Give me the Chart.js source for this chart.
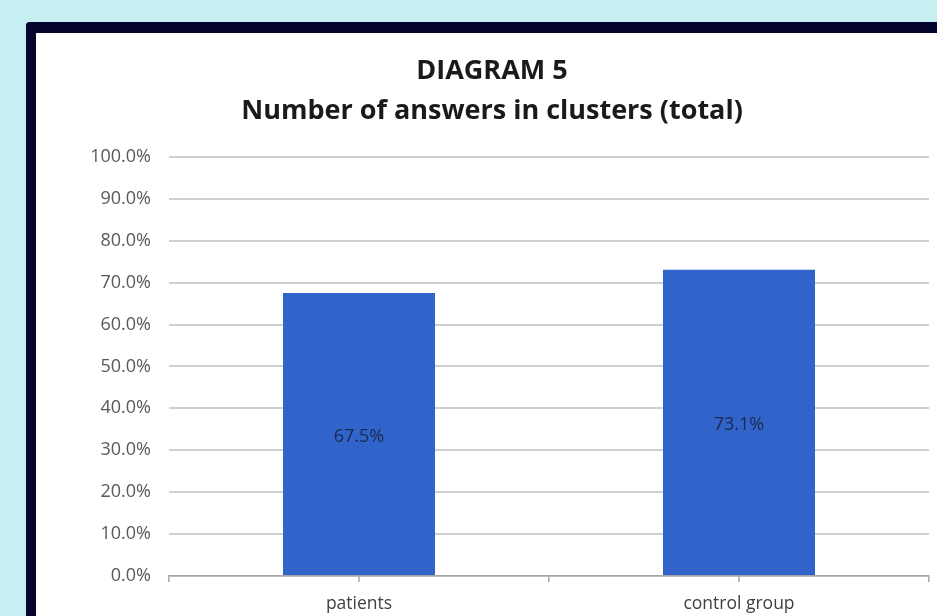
<!DOCTYPE html>
<html>
<head>
<meta charset="utf-8">
<script src="https://cdn.jsdelivr.net/npm/chart.js@4.4.1/dist/chart.umd.min.js"></script>
<style>
  html, body { margin: 0; padding: 0; }
  body { width: 937px; height: 616px; background: #c5eff0; overflow: hidden; position: relative; }
  #frame {
    position: absolute; left: 26px; top: 22px; width: 960px; height: 640px;
    background: #ffffff; border-left: 10px solid #05052e; border-top: 11px solid #05052e;
    border-top-left-radius: 4px;
  }
  #wrap { position: absolute; left: 36px; top: 33px; width: 901px; height: 583px; }
</style>
</head>
<body>
<div id="frame"></div>
<div id="wrap"><canvas id="chart"></canvas></div>
<script>
// dados
const categories = ['patients', 'control group'];
const values = [67.5, 73.1];
const titleLines = ['DIAGRAM 5', 'Number of answers in clusters (total)'];

const FONT = '"Open Sans", Lato, sans-serif';

// rótulos no meio de cada barra
const barLabels = {
  id: 'barLabels',
  afterDatasetsDraw(chart) {
    const ctx = chart.ctx;
    const meta = chart.getDatasetMeta(0);
    ctx.save();
    ctx.font = '18px ' + FONT;
    ctx.fillStyle = '#1b2a4e';
    ctx.textAlign = 'center';
    ctx.textBaseline = 'middle';
    meta.data.forEach((bar, i) => {
      const y = (bar.y + bar.base) / 2 + 3;
      ctx.fillText(values[i].toFixed(1) + '%', bar.x, y);
    });
    ctx.restore();
  }
};

// marcas pequenas no centro das categorias
const centerTicks = {
  id: 'centerTicks',
  afterDraw(chart) {
    const x = chart.scales.x;
    const ctx = chart.ctx;
    ctx.save();
    ctx.strokeStyle = '#a6a6a6';
    ctx.lineWidth = 1.5;
    categories.forEach((c, i) => {
      const px = x.getPixelForValue(i);
      ctx.beginPath();
      ctx.moveTo(px, x.top);
      ctx.lineTo(px, x.top + 6);
      ctx.stroke();
    });
    ctx.restore();
  }
};

new Chart(document.getElementById('chart'), {
  type: 'bar',
  data: {
    labels: categories,
    datasets: [{
      data: values,
      backgroundColor: '#3064ca',
      borderWidth: 0,
      barPercentage: 0.4,
      categoryPercentage: 1
    }]
  },
  options: {
    responsive: true,
    maintainAspectRatio: false,
    animation: false,
    layout: { padding: { left: 19, right: 8, top: 0, bottom: 0 } },
    plugins: {
      legend: { display: false },
      tooltip: { enabled: false },
      title: {
        display: true,
        text: titleLines,
        color: '#1a1a1a',
        font: { family: FONT, size: 27, weight: 'bold', lineHeight: 1.48 },
        padding: { top: 18, bottom: 26 }
      }
    },
    scales: {
      x: {
        offset: true,
        afterFit(scale) { scale.height = 40; },
        grid: { display: true, offset: true, drawOnChartArea: false, tickLength: 6, color: '#a6a6a6', lineWidth: 1.5 },
        border: { display: true, color: '#a6a6a6', width: 1.5 },
        ticks: { color: '#404040', font: { family: FONT, size: 17.5 }, padding: 12 }
      },
      y: {
        min: 0,
        max: 100,
        afterFit(scale) { scale.width = 114; },
        grid: { color: '#cfcfcf', lineWidth: 2, drawTicks: false },
        border: { display: false },
        ticks: {
          stepSize: 10,
          padding: 18,
          color: '#595959',
          font: { family: FONT, size: 18 },
          callback: v => v.toFixed(1) + '%'
        }
      }
    }
  },
  plugins: [barLabels, centerTicks]
});
</script>
</body>
</html>
